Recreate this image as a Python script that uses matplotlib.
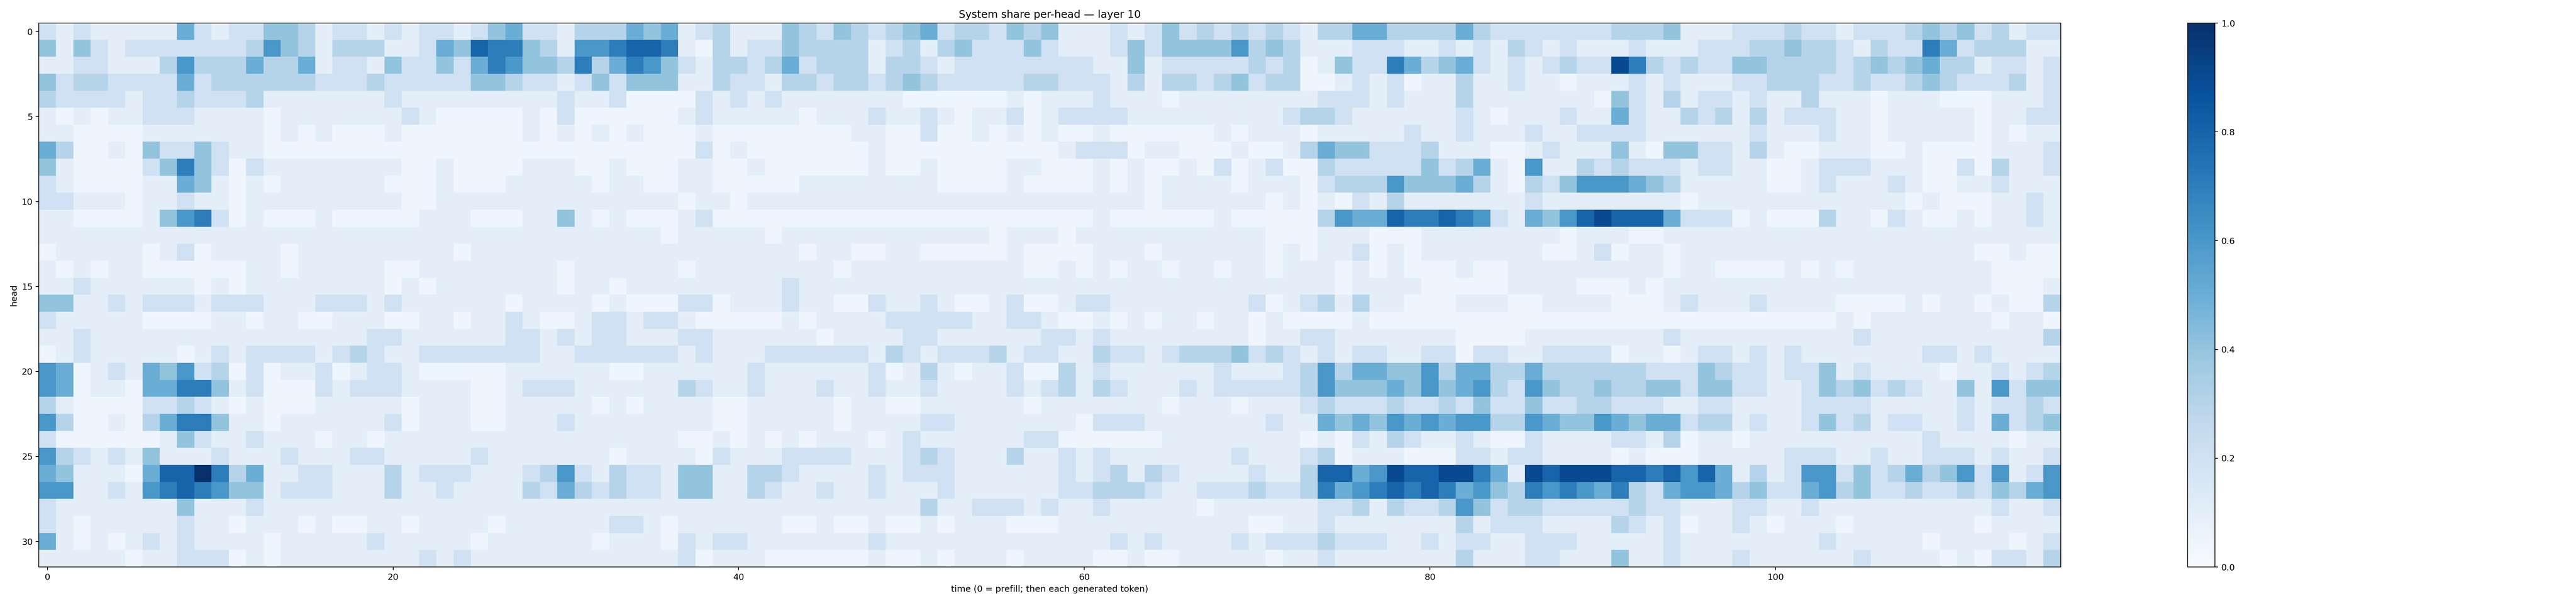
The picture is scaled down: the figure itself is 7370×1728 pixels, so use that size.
import matplotlib
matplotlib.use("Agg")
import matplotlib.pyplot as plt
import numpy as np

# share of attention on the system prompt, one string per head,
# one character per time step (digit = tenths, X = 1.0)
heads = [
    "21211111521224431221" "21221245221333545123" "11143243234523324341" "11212423232321335533" "33532222222333411122" "23221222343423122",
    "41421222222236431333" "11254877431667887103" "12243333123134222421" "11242444463431112221" "12121321211121112223" "34332132275233311",
    "11221113633353351221" "42242576443735764213" "32352333133212222222" "21141222223230142275" "34521212322973232244" "33332343453312212",
    "42332222523333332223" "22222443221242444113" "22133233234322222332" "22131332342330012120" "11311211011121211122" "33322322343222312",
    "32222122322231111111" "21111111112112000021" "21211111110000001011" "12111011111111222121" "11311111110421312212" "11311101110001112",
    "10101122211110111111" "12100000102000000121" "11110111211210112012" "22211111111123321111" "11210111211521132313" "12221101111101122",
    "11000011111110101000" "10000000101010100010" "00000001100200101010" "01000000101110111112" "11211121122221111112" "11121101111101011",
    "53001042242110000000" "00000000000000000020" "10000000100000000001" "22201100010013544222" "31110012111410442213" "10011100100001112",
    "41000024742021111111" "10010000111001000110" "01000000100100001100" "01010010201200322222" "42351061132322212211" "00122211100203112",
    "21000011541010111111" "00010001111101100110" "00001111111100001000" "01010111101110233364" "44531032466654311111" "00121112100112111",
    "22111011211011111111" "10011111111111111011" "01111111111111111111" "11110111111010102131" "11111121111111101111" "11111111010001121",
    "11000014672010001000" "00111000114101000120" "00000000000000000000" "01000000100000365587" "78762154689888522201" "00031102100101121",
    "11111111111111111111" "11111111111111110111" "11011111111111101110" "11111111111000111000" "11111111011100111111" "11111111111111111",
    "01111101201111011111" "11110111111111111111" "11110110011000001000" "01110111111010112010" "11111110012011011111" "11111111111100100",
    "10101100000011011111" "00111111110111111011" "11111101111111111001" "01011011011011101010" "00100111111111011000" "01010111111110000",
    "11211111101011111111" "01011111110110111111" "11121111111111111111" "11111111111111101111" "00000111100010111111" "11111111111110001",
    "44112122212221112221" "21111110111101000220" "11121100211210012001" "22111111112012313110" "00111001111000121112" "11110000101101003",
    "21111100001101100111" "00110112100122122100" "00010111122222112210" "01010110110100001000" "00000000000000000000" "00001011111110110",
    "11211111111111111112" "21111112212122111221" "11111011112211111122" "12111111110112211111" "11000011111111211111" "11111211111111113",
    "01211111012122221232" "11222222211222222121" "11222222132122231221" "13221233342321212211" "22022112222011012212" "12111111122121111",
    "65012154623020112012" "21000001111110011111" "12111111201310112003" "12111111211123635544" "63553353333332224322" "12241211110112123",
    "65011055774120002122" "21111001222111111321" "12111211211211112123" "13211121222223644454" "64563264334334424422" "11243423211416244",
    "31000022321010001111" "10111001111101011110" "01111101100111111011" "11111011101112322232" "23242242233222112211" "11222211111212232",
    "63001035774110111111" "20111001112111111110" "01111101111221111111" "02221111111211545465" "65663365446545523312" "11242312211215234",
    "20000001421121110110" "11111111111111111001" "01010111012111111220" "00000111111110102132" "11210021111221301101" "11111111121111011",
    "63212141112111211122" "11111211111110111102" "11122221112321113112" "12111111121112301110" "00221221111010001111" "12221121122212112",
    "541110588X7351122111" "31222111236213221441" "13321111212221111112" "12313211112113885698" "89975198999887868513" "12662423534626126",
    "66112167876441222111" "31121111325323221441" "13211211211121111112" "23332112223223756787" "87564376765732566534" "22563422322324356",
    "21111111411121111111" "11111111111111111111" "11111111111311222121" "12111110111111223132" "23642332222232211122" "11211111111112112",
    "21011111211011101001" "10111101111112210111" "11100100100101110001" "11111111110011211111" "11312221111321201121" "01110111111101111",
    "51010121211110111112" "11111011111101110212" "21111111211111111111" "11212111121222322211" "21221122211111211111" "11121111101111012",
    "11111011222010111111" "11212111111111111201" "11000000100101110111" "10010011111011211111" "11311122111411211121" "11111211110102213",
]

levels = {"0": 0.04, "X": 1.0}
for d in "123456789":
    levels[d] = int(d) / 10

share = np.array([[levels[ch] for ch in row] for row in heads])

fig = plt.figure(figsize=(7370 / 180, 1728 / 180), dpi=180)
ax = fig.add_axes([0.01506, 0.0613, 0.7849, 0.9005])
cax = fig.add_axes([0.8493, 0.0613, 0.01058, 0.9005])

im = ax.imshow(share, aspect="auto", cmap="Blues", vmin=0, vmax=1,
               interpolation="nearest")
ax.set_title("System share per-head — layer 10")
ax.set_xlabel("time (0 = prefill; then each generated token)")
ax.set_ylabel("head")

fig.colorbar(im, cax=cax)

fig.savefig("out.png", dpi=180)
